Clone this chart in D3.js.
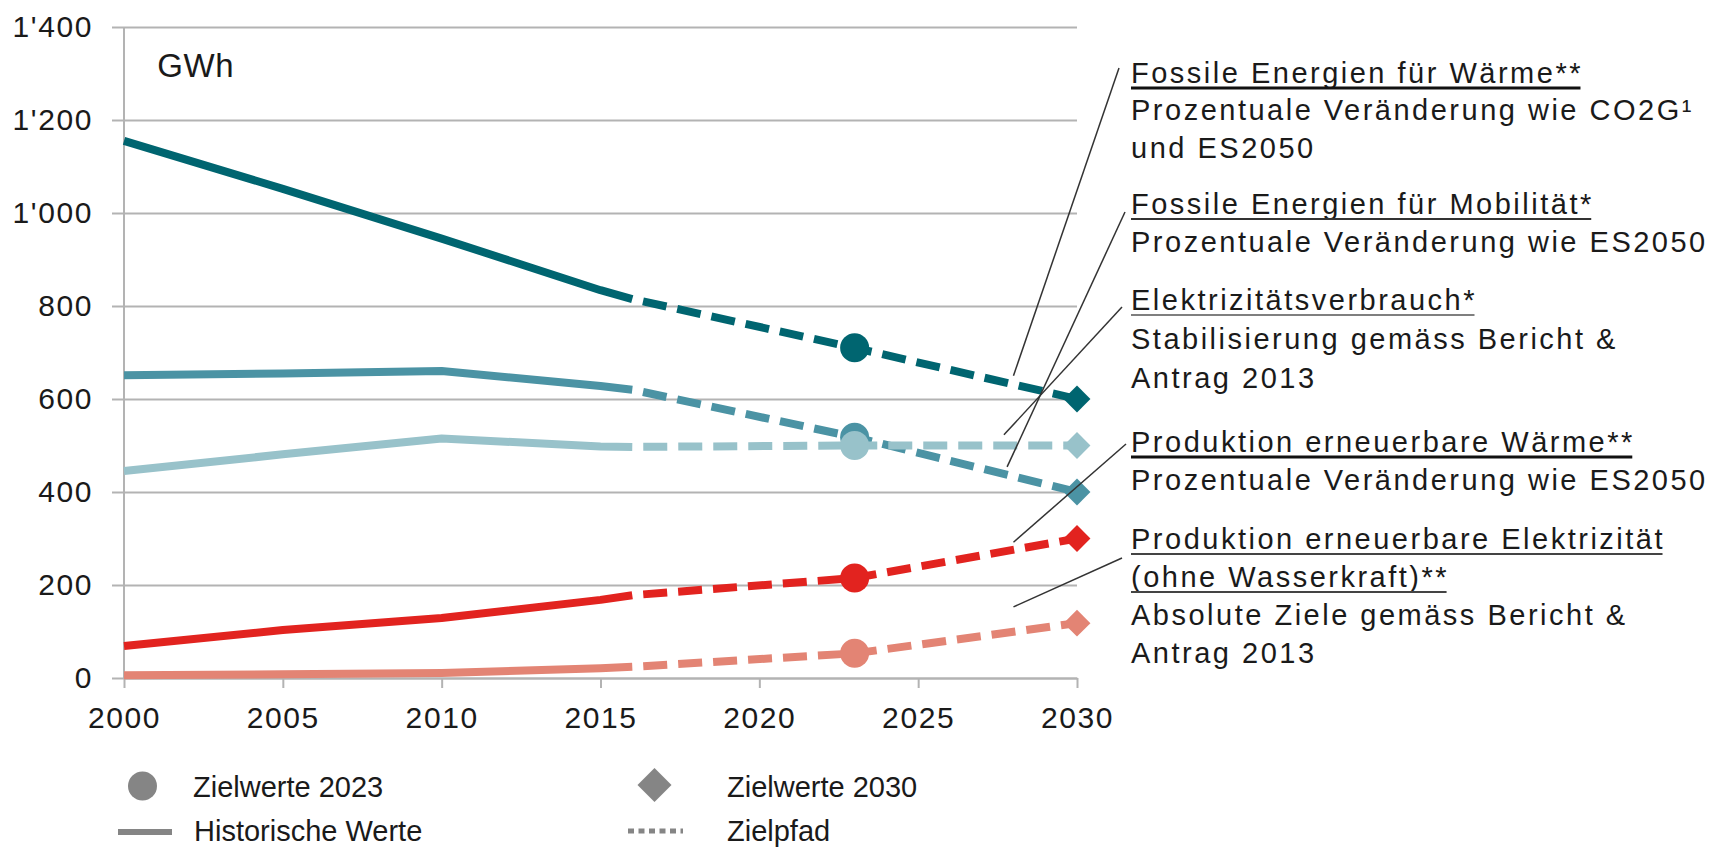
<!DOCTYPE html>
<html>
<head>
<meta charset="utf-8">
<script src="https://cdn.jsdelivr.net/npm/d3@7"></script>
<style>
  html, body { margin: 0; padding: 0; background: #fff; }
  svg { display: block; font-family: "Liberation Sans", Arial, sans-serif; }
</style>
</head>
<body>
<svg id="chart" width="1714" height="849"></svg>
<script>
// ---------- data ----------
const histYears = [2000, 2005, 2010, 2015, 2016];
const histFossilHeat = [1155, 1052, 945, 834, 815];
const histFossilMobility = [651, 655, 660, 628, 620];
const histElecConsumption = [445, 481, 515, 498, 497];
const histRenewableHeat = [69, 103, 129, 168, 178];
const histRenewableElec = [6, 8, 11, 21, 24];

const targetYears = [2023, 2030];
const targets2023 = [710, 518, 500, 215, 53];
const targets2030 = [600, 400, 500, 300, 118];

const seriesNames = [
  "Fossile Energien für Wärme",
  "Fossile Energien für Mobilität",
  "Elektrizitätsverbrauch",
  "Produktion erneuerbare Wärme",
  "Produktion erneuerbare Elektrizität"
];
const seriesColors = ["#006570", "#4b93a4", "#98c2ca", "#e2231f", "#e38474"];

const yTicks = [0, 200, 400, 600, 800, 1000, 1200, 1400];
const xTicks = [2000, 2005, 2010, 2015, 2020, 2025, 2030];
const unitLabel = "GWh";

// annotation blocks: title lines (underlined), description lines, leader target (year, value)
const noteTitles = [
  ["Fossile Energien für Wärme**"],
  ["Fossile Energien für Mobilität*"],
  ["Elektrizitätsverbrauch*"],
  ["Produktion erneuerbare Wärme**"],
  ["Produktion erneuerbare Elektrizität", "(ohne Wasserkraft)**"]
];
const noteTexts = [
  ["Prozentuale Veränderung wie CO2G¹", "und ES2050"],
  ["Prozentuale Veränderung wie ES2050"],
  ["Stabilisierung gemäss Bericht &", "Antrag 2013"],
  ["Prozentuale Veränderung wie ES2050"],
  ["Absolute Ziele gemäss Bericht &", "Antrag 2013"]
];
const noteLeaderYear = [2028, 2027.8, 2027.7, 2028, 2028];
const noteLeaderValue = [650, 454, 523, 292, 153];

const legendLabels = ["Zielwerte 2023", "Zielwerte 2030", "Historische Werte", "Zielpfad"];

// ---------- layout ----------
const svg = d3.select("#chart");
const x = d3.scaleLinear().domain([2000, 2030]).range([124, 1077]);
const y = d3.scaleLinear().domain([0, 1400]).range([678, 27]);
const textColor = "#1a1a1a";
const gridColor = "#b3b3b3";

const fmt = d3.formatLocale({decimal: ".", thousands: "'", grouping: [3], currency: ["", ""]}).format(",");

// grid lines (with small outer ticks on the left)
const grid = svg.append("g").attr("transform", "translate(112,0)")
  .call(d3.axisRight(y).tickValues(yTicks).tickSize(x(2030) - 112).tickFormat(""));
grid.select(".domain").remove();
grid.selectAll("line").attr("stroke", gridColor).attr("stroke-width", 1.8);

// y labels
const yl = svg.append("g").attr("transform", `translate(${x(2000)},0)`)
  .call(d3.axisLeft(y).tickValues(yTicks).tickSize(0).tickPadding(31).tickFormat(fmt));
yl.select(".domain").remove();
yl.attr("font-family", null).attr("font-size", null);
yl.selectAll("text").attr("fill", textColor).style("font-size", "30px")
  .style("letter-spacing", "1.6px");

// y axis line
svg.append("line").attr("x1", x(2000)).attr("x2", x(2000)).attr("y1", y(0)).attr("y2", y(1400))
  .attr("stroke", gridColor).attr("stroke-width", 2);

// x axis
const xa = svg.append("g").attr("transform", `translate(0,${y(0)})`)
  .call(d3.axisBottom(x).tickValues(xTicks).tickSize(10).tickSizeOuter(0).tickPadding(19).tickFormat(d3.format("d")));
xa.attr("font-family", null).attr("font-size", null);
xa.select(".domain").attr("stroke", gridColor).attr("stroke-width", 2);
xa.selectAll("line").attr("stroke", gridColor).attr("stroke-width", 2);
xa.selectAll("text").attr("fill", textColor).style("font-size", "30px").style("letter-spacing", "1.6px");

// unit label
svg.append("text").attr("x", x(2001.05)).attr("y", y(1292)).text(unitLabel)
  .attr("fill", textColor).style("font-size", "33px").style("letter-spacing", "0.5px");

// ---------- series ----------
const hist = [histFossilHeat, histFossilMobility, histElecConsumption, histRenewableHeat, histRenewableElec];
const line = d3.line().x(d => x(d[0])).y(d => y(d[1]));

hist.forEach((vals, i) => {
  const g = svg.append("g");
  const hp = histYears.map((yr, k) => [yr, vals[k]]);
  g.append("path").attr("d", line(hp)).attr("fill", "none")
    .attr("stroke", seriesColors[i]).attr("stroke-width", 8).attr("stroke-linejoin", "round");
  const last = hp[hp.length - 1];
  const tp = [last, [targetYears[0], targets2023[i]], [targetYears[1], targets2030[i]]];
  g.append("path").attr("d", line(tp)).attr("fill", "none")
    .attr("stroke", seriesColors[i]).attr("stroke-width", 8)
    .attr("stroke-dasharray", "24,11").attr("stroke-dashoffset", -11);
  g.append("circle").attr("cx", x(targetYears[0])).attr("cy", y(targets2023[i])).attr("r", 14.5)
    .attr("fill", seriesColors[i]);
  g.append("path").attr("d", d3.symbol(d3.symbolDiamond2 || d3.symbolSquare, 460)())
    .attr("transform", `translate(${x(targetYears[1])},${y(targets2030[i])}) rotate(${d3.symbolDiamond2 ? 0 : 45})`)
    .attr("fill", seriesColors[i]);
});

// ---------- annotations ----------
const noteX = 1131;
const noteBaselines = [
  [83, 120, 158],
  [214, 252],
  [310, 349, 388],
  [452, 490],
  [549, 587, 625, 663]
];
const leaderStarts = [[1119, 68], [1125, 212], [1122, 307], [1126, 444], [1122, 558]];
const underlineStyle = [
  {w: 3, c: "#111"}, {w: 2, c: "#333"}, {w: 1.6, c: "#555"}, {w: 3, c: "#111"}, {w: 2, c: "#444"}
];

noteTitles.forEach((titles, i) => {
  const g = svg.append("g");
  g.append("line")
    .attr("x1", leaderStarts[i][0]).attr("y1", leaderStarts[i][1])
    .attr("x2", x(noteLeaderYear[i])).attr("y2", y(noteLeaderValue[i]))
    .attr("stroke", "#333").attr("stroke-width", 1.5);
  let k = 0;
  titles.forEach(t => {
    const bl = noteBaselines[i][k++];
    const tx = g.append("text").attr("x", noteX).attr("y", bl).text(t)
      .attr("fill", textColor).style("font-size", "29px").style("letter-spacing", "2.5px");
    const w = tx.node().getComputedTextLength() - 2.5;
    g.append("line").attr("x1", noteX).attr("x2", noteX + w).attr("y1", bl + 5).attr("y2", bl + 5)
      .attr("stroke", underlineStyle[i].c).attr("stroke-width", underlineStyle[i].w);
  });
  noteTexts[i].forEach(t => {
    const bl = noteBaselines[i][k++];
    g.append("text").attr("x", noteX).attr("y", bl).text(t)
      .attr("fill", textColor).style("font-size", "29px").style("letter-spacing", "2.5px");
  });
});

// ---------- legend ----------
const legendGray = "#858585";
const lg = svg.append("g");
lg.append("circle").attr("cx", 142.5).attr("cy", 786).attr("r", 14.5).attr("fill", legendGray);
lg.append("path").attr("d", "M0,-17L17,0L0,17L-17,0Z").attr("transform", "translate(654.5,785)").attr("fill", legendGray);
lg.append("line").attr("x1", 118).attr("x2", 172).attr("y1", 832).attr("y2", 832)
  .attr("stroke", legendGray).attr("stroke-width", 6);
lg.append("line").attr("x1", 628).attr("x2", 683).attr("y1", 831).attr("y2", 831)
  .attr("stroke", legendGray).attr("stroke-width", 5).attr("stroke-dasharray", "6,4.5");
const legendPos = [[193, 797], [727, 797], [194, 841], [727, 841]];
legendLabels.forEach((t, i) => {
  lg.append("text").attr("x", legendPos[i][0]).attr("y", legendPos[i][1]).text(t)
    .attr("fill", textColor).style("font-size", "29px");
});
</script>
</body>
</html>
